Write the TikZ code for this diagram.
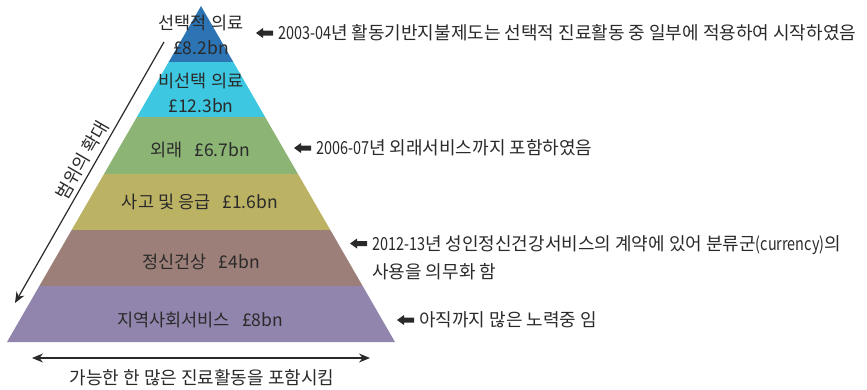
\documentclass[tikz,border=0pt]{standalone}
\usepackage{fontspec}
\usepackage{graphicx}
\setmainfont{Noto Sans CJK KR}
\usetikzlibrary{arrows.meta}
\definecolor{bandA}{HTML}{2C74B4}
\definecolor{bandB}{HTML}{3DC7E0}
\definecolor{bandC}{HTML}{8CB475}
\definecolor{bandD}{HTML}{BCB264}
\definecolor{bandE}{HTML}{9D7F79}
\definecolor{bandF}{HTML}{9185AD}
\definecolor{ink}{HTML}{2A2A2A}
\tikzset{
  lbl/.style={font=\fontsize{17.5}{25}\selectfont, text=ink, inner sep=0pt, align=center},
  note/.style={font=\fontsize{18}{28}\selectfont, text=ink, inner sep=0pt, anchor=west, align=left},
  sidetxt/.style={font=\fontsize{18}{20}\selectfont, text=ink},
  ptr/.style={line width=1.2pt, draw=ink, -{Stealth[length=11pt,width=9pt]}},
  dptr/.style={line width=1.2pt, draw=ink, {Stealth[length=11pt,width=9pt]}-{Stealth[length=11pt,width=9pt]}},
}
\newcommand\fatarrowat[1]{\fill[ink] (#1) ++(-17,0) -- ++(7,5) -- ++(0,-2.5) -- ++(10,0) -- ++(0,-5) -- ++(-10,0) -- ++(0,-2.5) -- cycle;}
\newcommand\lat[1]{\scalebox{0.8}[1]{#1}}
\begin{document}
\begin{tikzpicture}[x=1pt,y=1pt]
\useasboundingbox (0,0) rectangle (867,-389);
% pyramid
\coordinate (apex) at (201,-6);
\coordinate (bl) at (7,-342);
\coordinate (br) at (395,-342);
\begin{scope}
  \clip (apex) -- (br) -- (bl) -- cycle;
  \fill[bandA] (0,0) rectangle (400,-62);
  \fill[bandB] (0,-62) rectangle (400,-117);
  \fill[bandC] (0,-117) rectangle (400,-174);
  \fill[bandD] (0,-174) rectangle (400,-230);
  \fill[bandE] (0,-230) rectangle (400,-286);
  \fill[bandF] (0,-286) rectangle (400,-343);
\end{scope}
% band labels
\node[lbl] (l1) at (201,-34.5) {선택적 의료\\£8.2bn};
\node[lbl] (l2) at (201,-93) {비선택 의료\\£12.3bn};
\node[lbl] (l3) at (200,-150) {외래\hspace{0.7em}£6.7bn};
\node[lbl] (l4) at (200,-202) {사고 및 응급\hspace{0.7em}£1.6bn};
\node[lbl] (l5) at (201,-262) {정신건상\hspace{0.7em}£4bn};
\node[lbl] (l6) at (200,-320) {지역사회서비스\hspace{0.7em}£8bn};
% left arrow
\coordinate (ls) at (164,-42);
\coordinate (le) at (15,-303);
\draw[ptr] (ls) -- (le);
\node[sidetxt, rotate=60, anchor=south, inner sep=5pt] (scopetxt) at (93.5,-167) {범위의 확대};
% bottom arrow
\coordinate (bs) at (32,-358);
\coordinate (be) at (370,-358);
\draw[dptr] (bs) -- (be);
\node[sidetxt, inner sep=0pt] (bottomtxt) at (202,-378) {가능한 한 많은 진료활동을 포함시킴};
% notes
\node[note] (n1) at (278,-33) {\lat{2003-04}년 활동기반지불제도는 선택적 진료활동 중 일부에 적용하여 시작하였음};
\fatarrowat{[xshift=-5]n1.west}
\node[note] (n2) at (316,-148) {\lat{2006-07}년 외래서비스까지 포함하였음};
\fatarrowat{[xshift=-5]n2.west}
\node[note] (n3) at (372,-257.5) {\lat{2012-13}년 성인정신건강서비스의 계약에 있어 분류군\lat{(currency)}의\\사용을 의무화 함};
\fatarrowat{[shift={(-5,14)}]n3.west}
\node[note] (n4) at (419,-320) {아직까지 많은 노력중 임};
\fatarrowat{[xshift=-5]n4.west}
\end{tikzpicture}
\end{document}
